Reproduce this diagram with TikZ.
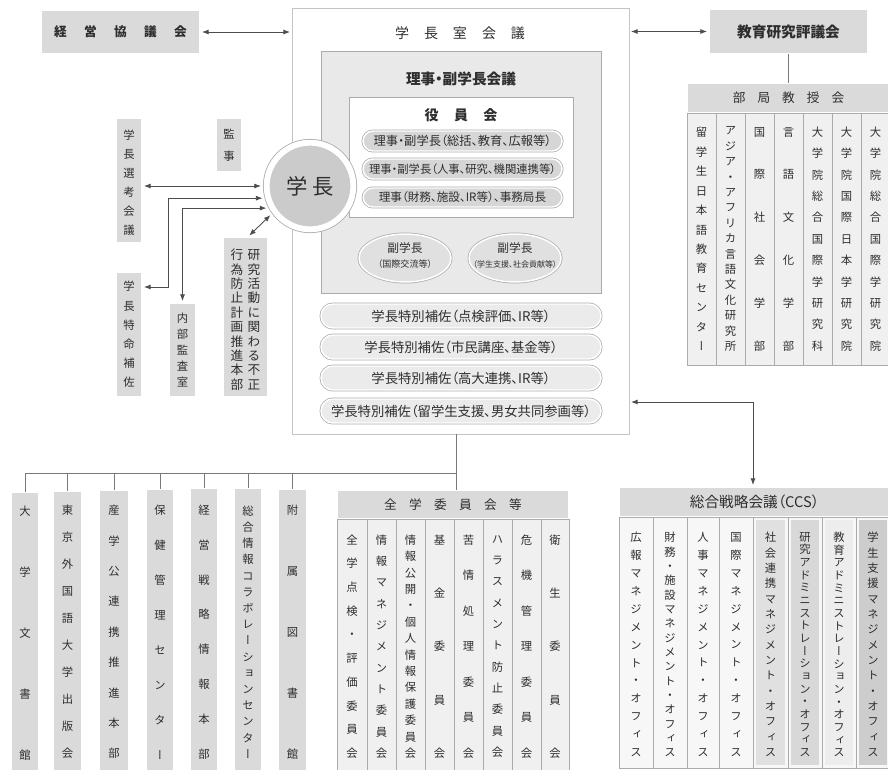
\documentclass[tikz,border=0pt]{standalone}
\usepackage{fontspec}
\setmainfont{Noto Sans CJK JP}[RawFeature=+palt]
\newfontfamily\vfont{Noto Sans CJK JP}[RawFeature=+vert]
\usetikzlibrary{arrows.meta,shapes.geometric,fit,calc}
\definecolor{frame}{HTML}{ABABAB}
\definecolor{roomf}{HTML}{C4C4C4}
\definecolor{boxg}{HTML}{DADADA}
\definecolor{midg}{HTML}{E9E9E9}
\definecolor{colg}{HTML}{F0F0F0}
\definecolor{colw}{HTML}{F7F7F7}
\definecolor{pillg}{HTML}{D6D6D6}
\definecolor{pillw}{HTML}{EBEBEB}
\definecolor{ellg}{HTML}{E0E0E0}
\definecolor{circg}{HTML}{CBCBCB}
\definecolor{ccsa}{HTML}{E0E0E0}
\definecolor{ccsb}{HTML}{D8D8D8}
\definecolor{ccsd}{HTML}{EDEDED}
\definecolor{ccsc}{HTML}{CDCDCD}
\definecolor{linec}{HTML}{4D4D4D}
\definecolor{treec}{HTML}{7A7A7A}
\definecolor{txt}{HTML}{2E2E2E}
\ExplSyntaxOn
\NewDocumentCommand\vs{m}
 {
  \vbox
   {
    \tl_map_inline:nn {#1} { \hbox_to_wd:nn {1em} { \hss ##1 \hss } }
   }
 }
\ExplSyntaxOff
\begin{document}
\begin{tikzpicture}[x=0.75pt,y=-0.75pt,
 every node/.style={inner sep=0pt,outer sep=0pt,text=txt},
 ring/.style={preaction={draw=frame,line width=2.2pt},draw=white,line width=1.1pt},
 gbox/.style={ring,fill=boxg},
 vt/.style={font=\vfont\fontsize{8.5}{#1}\selectfont},
 col/.style={draw=frame,fill=colg,line width=0.5pt},
 ccol/.style={draw=frame,fill=colw,line width=0.5pt},
 inset/.style={path picture={\fill[#1] ([xshift=2.2pt,yshift=-2.2pt]path picture bounding box.north west) rectangle ([xshift=-2.2pt,yshift=2.2pt]path picture bounding box.south east);}},
 hdr/.style={ring,fill=boxg},
 conn/.style={draw=linec,line width=0.65pt},
 tree/.style={draw=treec,line width=0.75pt},
 dbl/.style={conn,{Latex[length=5pt,width=3.8pt]}-{Latex[length=5pt,width=3.8pt]},shorten >=1.5pt,shorten <=1.5pt},
 pillA/.style={ring,fill=pillg,rounded corners=7.5pt},
 pillB/.style={ring,fill=pillw,rounded corners=9pt},
]
\useasboundingbox (0,0) rectangle (888,769);
\fill[white] (0,0) rectangle (888,769);

% ---- top left
\node[gbox,fit={(41,10)(200,54)}] (keiei) {};
\node[font=\fontsize{9.5}{11}\selectfont\bfseries] (keieit) at (keiei.center)
  {経\hspace{13pt}営\hspace{13pt}協\hspace{13pt}議\hspace{13pt}会};

% ---- central room
\node[draw=roomf,fill=white,line width=0.6pt,fit={(292,8)(629,434)}] (room) {};
\node[font=\fontsize{10.5}{12}\selectfont] (roomtitle) at (460,33)
  {学\hspace{11.25pt}長\hspace{11.25pt}室\hspace{11.25pt}会\hspace{11.25pt}議};
\node[draw=frame,fill=midg,line width=0.6pt,fit={(321,51)(601,293)}] (riji) {};
\node[font=\fontsize{11}{12}\selectfont\bfseries] (rijititle) at (461,79) {理事・副学長会議};
\node[draw=frame,fill=white,line width=0.6pt,fit={(349,97)(573,217)}] (yakuin) {};
\node[font=\fontsize{10.5}{12}\selectfont\bfseries] (yakuintitle) at (461,115)
  {役\hspace{11.5pt}員\hspace{11.5pt}会};
\node[pillA,fit={(363,131)(562,151)}] (p1) {};
\node[pillA,fit={(363,159)(562,179)}] (p2) {};
\node[pillA,fit={(363,188)(562,207)}] (p3) {};
\node[font=\fontsize{9.2}{10}\selectfont] (p1t) at (p1.center) {理事・副学長（総括、教育、広報等）};
\node[font=\fontsize{8.5}{10}\selectfont] (p2t) at (p2.center) {理事・副学長（人事、研究、機関連携等）};
\node[font=\fontsize{8.7}{10}\selectfont] (p3t) at (p3.center) {理事（財務、施設、IR等）、事務局長};
\node[ellipse,ring,fill=ellg,minimum width=69pt,minimum height=36pt] (fk1) at (405,258) {};
\node[ellipse,ring,fill=ellg,minimum width=69pt,minimum height=36pt] (fk2) at (515,258) {};
\node[font=\fontsize{8.8}{10}\selectfont] (fk1a) at (405,248) {副学長};
\node[font=\fontsize{6.8}{8}\selectfont] (fk1b) at (405,264) {（国際交流等）};
\node[font=\fontsize{8.8}{10}\selectfont] (fk2a) at (515,248) {副学長};
\node[font=\fontsize{6}{8}\selectfont] (fk2b) at (515,264) {（学生支援、社会貢献等）};
\node[pillB,fit={(321,304)(601,328)}] (s1) {};
\node[pillB,fit={(321,335)(601,359)}] (s2) {};
\node[pillB,fit={(321,366)(601,390)}] (s3) {};
\node[pillB,fit={(321,399)(601,423)}] (s4) {};
\node[font=\fontsize{10}{12}\selectfont] (s1t) at (s1.center) {学長特別補佐（点検評価、IR等）};
\node[font=\fontsize{10}{12}\selectfont] (s2t) at (s2.center) {学長特別補佐（市民講座、基金等）};
\node[font=\fontsize{10}{12}\selectfont] (s3t) at (s3.center) {学長特別補佐（高大連携、IR等）};
\node[font=\fontsize{10}{12}\selectfont] (s4t) at (s4.center) {学長特別補佐（留学生支援、男女共同参画等）};

% ---- president circle
\node[circle,fill=circg,preaction={draw=frame,line width=5.6pt},draw=white,line width=4.4pt,
  minimum size=65pt,outer sep=2.8pt,font=\fontsize{16}{18}\selectfont] (gakucho) at (310,186) {学\hspace{4pt}長};

% ---- left boxes
\node[gbox,fit={(116,118)(142,243)}] (senko) {};
\node[gbox,fit={(116,272)(142,397)}] (tokumei) {};
\node[gbox,fit={(169,303)(196,397)}] (naibu) {};
\node[gbox,fit={(216,118)(242,172)}] (kanji) {};
\node[gbox,fit={(223,237)(268,397)}] (kenkyu) {};
\node[vt=14.25] (senkot) at ([yshift=-1.5pt]senko.center) {\vs{学長選考会議}};
\node[vt=14.4] (tokumeit) at (tokumei.center) {\vs{学長特命補佐}};
\node[vt=11.85] (naibut) at (naibu.center) {\vs{内部監査室}};
\node[vt=16.5] (kanjit) at (kanji.center) {\vs{監事}};
\node[font=\vfont\fontsize{9.5}{10.8}\selectfont] (kenkyut) at ([yshift=-2pt]kenkyu.center)
  {\vs{行為防止計画推進本部}\hspace{3.2pt}\vs{研究活動に関わる不正}};

% ---- right top
\node[gbox,fit={(709,9)(868,54)}] (kyoiku) {};
\node[font=\fontsize{11}{12}\selectfont\bfseries] (kyoikut) at (kyoiku.center) {教育研究評議会};
\node[hdr,fit={(687,83)(890,113)}] (bhead) {};
\node[font=\fontsize{9.5}{11}\selectfont] (bheadt) at (bhead.center)
  {部\hspace{9pt}局\hspace{9pt}教\hspace{9pt}授\hspace{9pt}会};
\node[col,fit={(687,113)(716,365)}] (bk1) {};
\node[col,fit={(716,113)(745,365)}] (bk2) {};
\node[col,fit={(745,113)(774,365)}] (bk3) {};
\node[col,fit={(774,113)(803,365)}] (bk4) {};
\node[col,fit={(803,113)(832,365)}] (bk5) {};
\node[col,fit={(832,113)(861,365)}] (bk6) {};
\node[col,fit={(861,113)(890,365)}] (bk7) {};
\node[vt=14.6] (bk1t) at (bk1.center) {\vs{留学生日本語教育センター}};
\node[vt=11.55] (bk2t) at (bk2.center) {\vs{アジア・アフリカ言語文化研究所}};
\node[vt=32.1] (bk3t) at (bk3.center) {\vs{国際社会学部}};
\node[vt=32.1] (bk4t) at (bk4.center) {\vs{言語文化学部}};
\node[vt=16.05] (bk5t) at (bk5.center) {\vs{大学院総合国際学研究科}};
\node[vt=16.05] (bk6t) at (bk6.center) {\vs{大学院国際日本学研究院}};
\node[vt=16.05] (bk7t) at (bk7.center) {\vs{大学院総合国際学研究院}};

% ---- bottom left boxes
\node[gbox,fit={(11,492)(39,774)}] (b1) {};
\node[gbox,fit={(53,491)(82,774)}] (b2) {};
\node[gbox,fit={(99,490)(129,774)}] (b3) {};
\node[gbox,fit={(146,489)(174,774)}] (b4) {};
\node[gbox,fit={(190,488)(218,774)}] (b5) {};
\node[gbox,fit={(234,488)(262,774)}] (b6) {};
\node[gbox,fit={(278,489)(307,774)}] (b7) {};
\node[vt=45.75] (b1t) at (25,633) {\vs{大学文書館}};
\node[vt=20.25] (b2t) at (67.5,632) {\vs{東京外国語大学出版会}};
\node[vt=22.8] (b3t) at (114,632) {\vs{産学公連携推進本部}};
\node[vt=26.25] (b4t) at (160,632) {\vs{保健管理センター}};
\node[vt=26.1] (b5t) at (204,632) {\vs{経営戦略情報本部}};
\node[vt=12.15] (b6t) at (248,632) {\vs{総合情報コラボレーションセンター}};
\node[vt=45.75] (b7t) at (292.5,632) {\vs{附属図書館}};

% ---- all-university committees
\node[hdr,fit={(337,490)(569,519)}] (zhead) {};
\node[font=\fontsize{9.5}{11}\selectfont] (zheadt) at (zhead.center)
  {全\hspace{9.25pt}学\hspace{9.25pt}委\hspace{9.25pt}員\hspace{9.25pt}会\hspace{9.25pt}等};
\node[col,fit={(337,519)(367,774)}] (z1) {};
\node[col,fit={(367,519)(396,774)}] (z2) {};
\node[col,fit={(396,519)(425,774)}] (z3) {};
\node[col,fit={(425,519)(454,774)}] (z4) {};
\node[col,fit={(454,519)(483,774)}] (z5) {};
\node[col,fit={(483,519)(512,774)}] (z6) {};
\node[col,fit={(512,519)(541,774)}] (z7) {};
\node[col,fit={(541,519)(569,774)}] (z8) {};
\node[vt=17.8] (z1t) at (352,646.5) {\vs{全学点検・評価委員会}};
\node[vt=16] (z2t) at (381.5,646.5) {\vs{情報マネジメント委員会}};
\node[vt=12.3] (z3t) at (410.5,646.5) {\vs{情報公開・個人情報保護委員会}};
\node[vt=40] (z4t) at (439.5,646.5) {\vs{基金委員会}};
\node[vt=26.6] (z5t) at (468.5,646.5) {\vs{苦情処理委員会}};
\node[vt=16] (z6t) at (497.5,646.5) {\vs{ハラスメント防止委員会}};
\node[vt=26.6] (z7t) at (526.5,646.5) {\vs{危機管理委員会}};
\node[vt=40] (z8t) at (555,646.5) {\vs{衛生委員会}};

% ---- CCS
\node[hdr,fit={(619,487)(890,517)}] (ccshead) {};
\node[font=\fontsize{11}{12}\selectfont] (ccsheadt) at (ccshead.center) {総合戦略会議（CCS）};
\node[ccol,fit={(619,517)(653,768)}] (c1) {};
\node[ccol,fit={(653,517)(687,768)}] (c2) {};
\node[ccol,fit={(687,517)(719,768)}] (c3) {};
\node[ccol,fit={(719,517)(753,768)}] (c4) {};
\node[ccol,inset=ccsa,fit={(753,517)(788,768)}] (c5) {};
\node[ccol,inset=ccsb,fit={(788,517)(822,768)}] (c6) {};
\node[ccol,inset=ccsd,fit={(822,517)(856,768)}] (c7) {};
\node[ccol,inset=ccsc,fit={(856,517)(890,768)}] (c8) {};
\node[vt=13.4] (c1t) at ([yshift=-1.5pt]c1.center) {\vs{広報マネジメント・オフィス}};
\node[vt=10.75] (c2t) at ([yshift=-1.5pt]c2.center) {\vs{財務・施設マネジメント・オフィス}};
\node[vt=13.4] (c3t) at ([yshift=-1.5pt]c3.center) {\vs{人事マネジメント・オフィス}};
\node[vt=13.4] (c4t) at ([yshift=-1.5pt]c4.center) {\vs{国際マネジメント・オフィス}};
\node[vt=11.5] (c5t) at ([yshift=-1.5pt]c5.center) {\vs{社会連携マネジメント・オフィス}};
\node[vt=9.5] (c6t) at ([yshift=-1.5pt]c6.center) {\vs{研究アドミニストレーション・オフィス}};
\node[vt=9.5] (c7t) at ([yshift=-1.5pt]c7.center) {\vs{教育アドミニストレーション・オフィス}};
\node[vt=11.5] (c8t) at ([yshift=-1.5pt]c8.center) {\vs{学生支援マネジメント・オフィス}};

% ---- connectors
\draw[dbl] (keiei.east) -- (keiei.east -| room.west);
\draw[dbl] (kyoiku.west -| room.east) -- (kyoiku.west);
\draw[tree] (kyoiku.south) -- (kyoiku.south |- bhead.north);
\draw[dbl] (senko.east |- gakucho.west) -- (gakucho.west);
\coordinate (tkb) at (168,287);
\draw[dbl] (gakucho.195) -| (tkb) -- (tkb -| tokumei.east);
\draw[dbl] (gakucho.208) -| (naibu.north);
\draw[dbl] ($(kenkyu.north)!0.1!(kenkyu.north east)$) -- (gakucho.216);
\coordinate (ccsbend) at (753,402);
\draw[dbl] (ccsbend -| room.east) -- (ccsbend) -- (ccsbend |- ccshead.north);
\coordinate (trunk) at (456,473);
\draw[tree] (room.south -| trunk) -- (zhead.north -| trunk);
\draw[tree] (trunk) -- (trunk -| b1.north);
\foreach \b in {b1,b2,b3,b4,b5,b6,b7} \draw[tree] (\b.north |- trunk) -- (\b.north);
\end{tikzpicture}
\end{document}
